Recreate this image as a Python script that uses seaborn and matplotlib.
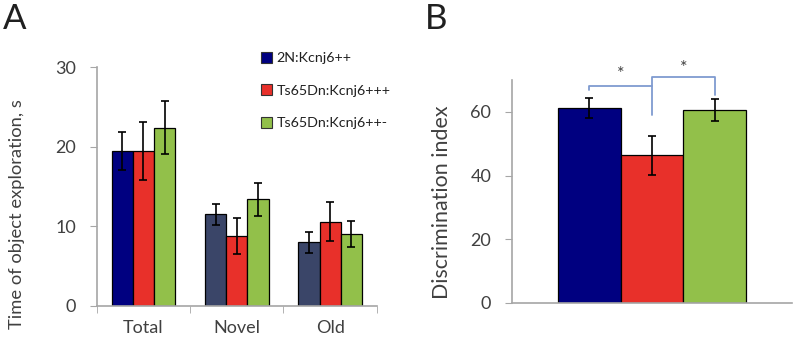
import seaborn as sns
import pandas as pd
import matplotlib.pyplot as plt
from matplotlib.patches import Patch
from matplotlib.container import BarContainer

# data
groups = ['2N:Kcnj6++', 'Ts65Dn:Kcnj6+++', 'Ts65Dn:Kcnj6++-']
categories = ['Total', 'Novel', 'Old']
time_2n = [19.5, 11.5, 8.0]
time_tri = [19.5, 8.8, 10.6]
time_het = [22.4, 13.4, 9.0]
err_2n = [2.4, 1.35, 1.3]
err_tri = [3.65, 2.3, 2.5]
err_het = [3.35, 2.1, 1.65]

disc_index = [61.2, 46.3, 60.6]
disc_err = [3.05, 6.2, 3.35]

colors = ['#000080', '#e8302a', '#92c04a']
slate = '#3a4568'
axis_gray = '#a6a6a6'
text_gray = '#404040'

sns.set_style('white')
plt.rcParams['font.family'] = ['Lato', 'DejaVu Sans']

df_a = pd.DataFrame({
    'category': categories * 3,
    'group': [g for g in groups for _ in categories],
    'value': time_2n + time_tri + time_het,
    'err': err_2n + err_tri + err_het,
})
df_b = pd.DataFrame({'x': [''] * 3, 'group': groups, 'value': disc_index, 'err': disc_err})

fig = plt.figure(figsize=(8, 3.38), dpi=100)
ax1 = fig.add_axes([0.121, 0.0947, 0.350, 0.707])
ax2 = fig.add_axes([0.640, 0.1036, 0.350, 0.660])


def bar_containers(ax):
    return [c for c in ax.containers if isinstance(c, BarContainer)]


def add_errors(ax, df, cats):
    for cont, g in zip(bar_containers(ax), groups):
        sub = df[df['group'] == g].set_index(cats)
        for bar, c in zip(cont, sub.index):
            x = bar.get_x() + bar.get_width() / 2
            ax.errorbar(x, bar.get_height(), yerr=sub.loc[c, 'err'], color='black',
                        capsize=3, elinewidth=1.2, capthick=1.2, zorder=5)


# panel A
sns.barplot(data=df_a, x='category', y='value', hue='group', palette=colors,
            width=0.68, edgecolor='black', linewidth=0.9, errorbar=None,
            legend=False, ax=ax1, saturation=1)
for bar in list(bar_containers(ax1)[0])[1:]:
    bar.set_facecolor(slate)
add_errors(ax1, df_a, 'category')
ax1.set_xlim(-0.5, 2.5)
ax1.set_ylim(0, 30)
ax1.set_yticks([0, 10, 20, 30])
ax1.set_xticks([0, 1, 2])
ax1.set_xticks([-0.5, 0.5, 1.5, 2.5], minor=True)
ax1.tick_params(axis='x', which='major', length=0, pad=10, labelsize=13, labelcolor=text_gray)
ax1.tick_params(axis='x', which='minor', length=5, color=axis_gray, direction='out', bottom=True)
ax1.tick_params(axis='y', length=5, color=axis_gray, direction='out', left=True,
                labelsize=13, labelcolor=text_gray, pad=10)
ax1.set_xlabel('')
ax1.set_ylabel('Time of object exploration, s', fontsize=13.2, color=text_gray)
ax1.yaxis.set_label_coords(-0.255, 0.385)
sns.despine(ax=ax1)
for s in ['left', 'bottom']:
    ax1.spines[s].set_color(axis_gray)
    ax1.spines[s].set_linewidth(1.2)

handles = [Patch(facecolor=c, edgecolor='#333333', linewidth=0.8) for c in colors]
fig.legend(handles, groups, loc='upper left', bbox_to_anchor=(0.31, 0.885),
           frameon=False, fontsize=10.3, handlelength=0.8, handleheight=0.8,
           handletextpad=0.3, labelspacing=1.4, labelcolor='#202020')

# panel B
sns.barplot(data=df_b, x='x', y='value', hue='group', palette=colors,
            width=0.671, edgecolor='black', linewidth=0.9, errorbar=None,
            legend=False, ax=ax2, saturation=1)
xs = [b.get_x() + b.get_width() / 2 for cont in bar_containers(ax2) for b in cont]
add_errors(ax2, df_b, 'x')
ax2.set_xlim(-0.5, 0.5)
ax2.set_ylim(0, 70)
ax2.set_yticks([0, 20, 40, 60])
ax2.tick_params(axis='x', length=0, labelbottom=False)
ax2.tick_params(axis='y', length=5, color=axis_gray, direction='out', left=True,
                labelsize=13, labelcolor=text_gray, pad=10)
ax2.set_xlabel('')
ax2.set_ylabel('Discrimination index', fontsize=15.4, color=text_gray)
ax2.yaxis.set_label_coords(-0.215, 0.453)
sns.despine(ax=ax2)
for s in ['left', 'bottom']:
    ax2.spines[s].set_color(axis_gray)
    ax2.spines[s].set_linewidth(1.2)

# significance brackets
bc = '#7f9bd0'
ax2.plot([xs[0], xs[0], xs[1]], [66.7, 68.2, 68.2], color=bc, lw=1.3, clip_on=False)
ax2.plot([xs[1], xs[1], xs[2], xs[2]], [59.1, 70.8, 70.8, 65.4], color=bc, lw=1.3, clip_on=False)
ax2.text((xs[0] + xs[1]) / 2, 69.3, '*', ha='center', va='bottom', fontsize=13, color='#404040')
ax2.text((xs[1] + xs[2]) / 2, 71.2, '*', ha='center', va='bottom', fontsize=13, color='#404040')

fig.text(0.004, 0.99, 'A', fontsize=25, va='top', ha='left', color='#202020')
fig.text(0.531, 0.99, 'B', fontsize=25, va='top', ha='left', color='#202020')

fig.savefig('out.png', dpi=100)
